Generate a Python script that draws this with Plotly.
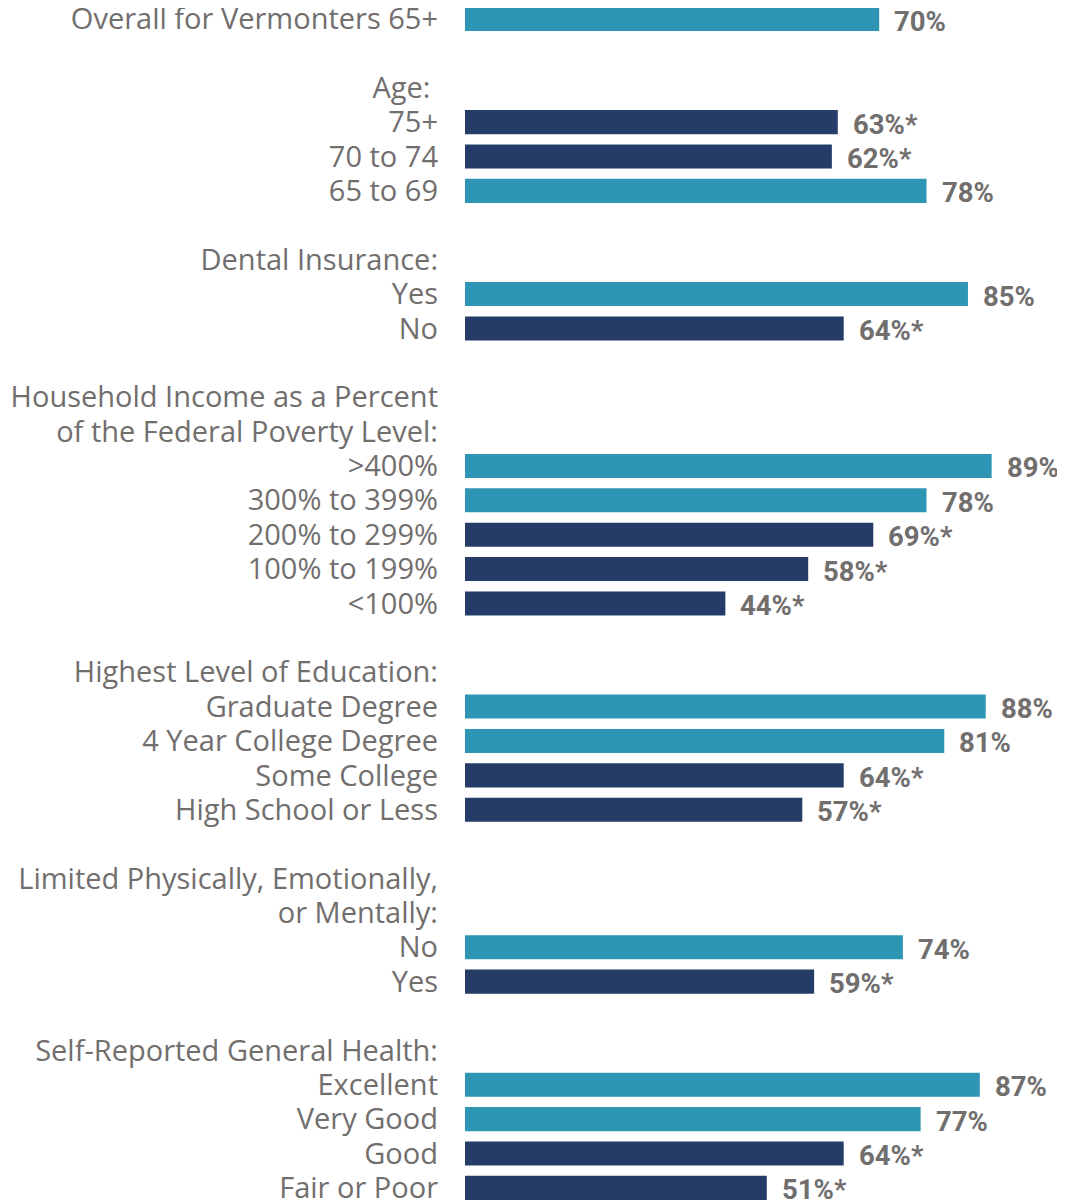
import plotly.graph_objects as go

labels = [
    "Overall for Vermonters 65+", " ",
    "Age: ", "75+", "70 to 74", "65 to 69", "  ",
    "Dental Insurance:", "Yes", "No", "   ",
    "Household Income as a Percent", "of the Federal Poverty Level:",
    ">400%", "300% to 399%", "200% to 299%", "100% to 199%", "<100%", "    ",
    "Highest Level of Education:", "Graduate Degree", "4 Year College Degree",
    "Some College", "High School or Less", "     ",
    "Limited Physically, Emotionally,", "or Mentally:", "No", "Yes", "      ",
    "Self-Reported General Health:", "Excellent", "Very Good", "Good", "Fair or Poor",
]
values = [
    70, None,
    None, 63, 62, 78, None,
    None, 85, 64, None,
    None, None, 89, 78, 69, 58, 44, None,
    None, 88, 81, 64, 57, None,
    None, None, 74, 59, None,
    None, 87, 77, 64, 51,
]
significant = [
    False, False,
    False, True, True, False, False,
    False, False, True, False,
    False, False, False, False, True, True, True, False,
    False, False, False, True, True, False,
    False, False, False, True, False,
    False, False, False, True, True,
]

TEAL = "#2E95B5"
NAVY = "#243C67"
GRAY = "#716E6E"

pos = list(range(len(labels)))
colors = [NAVY if s else TEAL for s in significant]

fig = go.Figure()
fig.add_trace(go.Bar(
    x=[v if v is not None else 0 for v in values],
    y=pos,
    orientation="h",
    marker=dict(color=colors, line=dict(width=0)),
    width=0.70,
    hoverinfo="skip",
))

for p, v, s in zip(pos, values, significant):
    if v is None:
        continue
    fig.add_annotation(
        x=v, y=p, xref="x", yref="y",
        text=f"{v}%" + ("*" if s else ""),
        showarrow=False, xanchor="left", yanchor="middle",
        xshift=14, yshift=-2, borderpad=0,
        font=dict(family="Roboto, Arial", size=27.5, color=GRAY, weight="bold"),
    )

fig.update_layout(
    width=1057, height=1194,
    margin=dict(l=457, r=0, t=0, b=0, autoexpand=False),
    paper_bgcolor="white", plot_bgcolor="white",
    showlegend=False,
    bargap=0.3,
    xaxis=dict(range=[0, 101.4], visible=False, fixedrange=True, automargin=False),
    yaxis=dict(
        range=[34.41, -0.32],
        tickmode="array", tickvals=pos, ticktext=labels,
        showgrid=False, zeroline=False, showline=False, ticks="",
        automargin=False,
        ticklabelstandoff=26,
        ticklabeloverflow="allow",
        tickfont=dict(family="Open Sans, Roboto, Arial", size=29, color=GRAY),
    ),
)

fig.write_html("out.html")
